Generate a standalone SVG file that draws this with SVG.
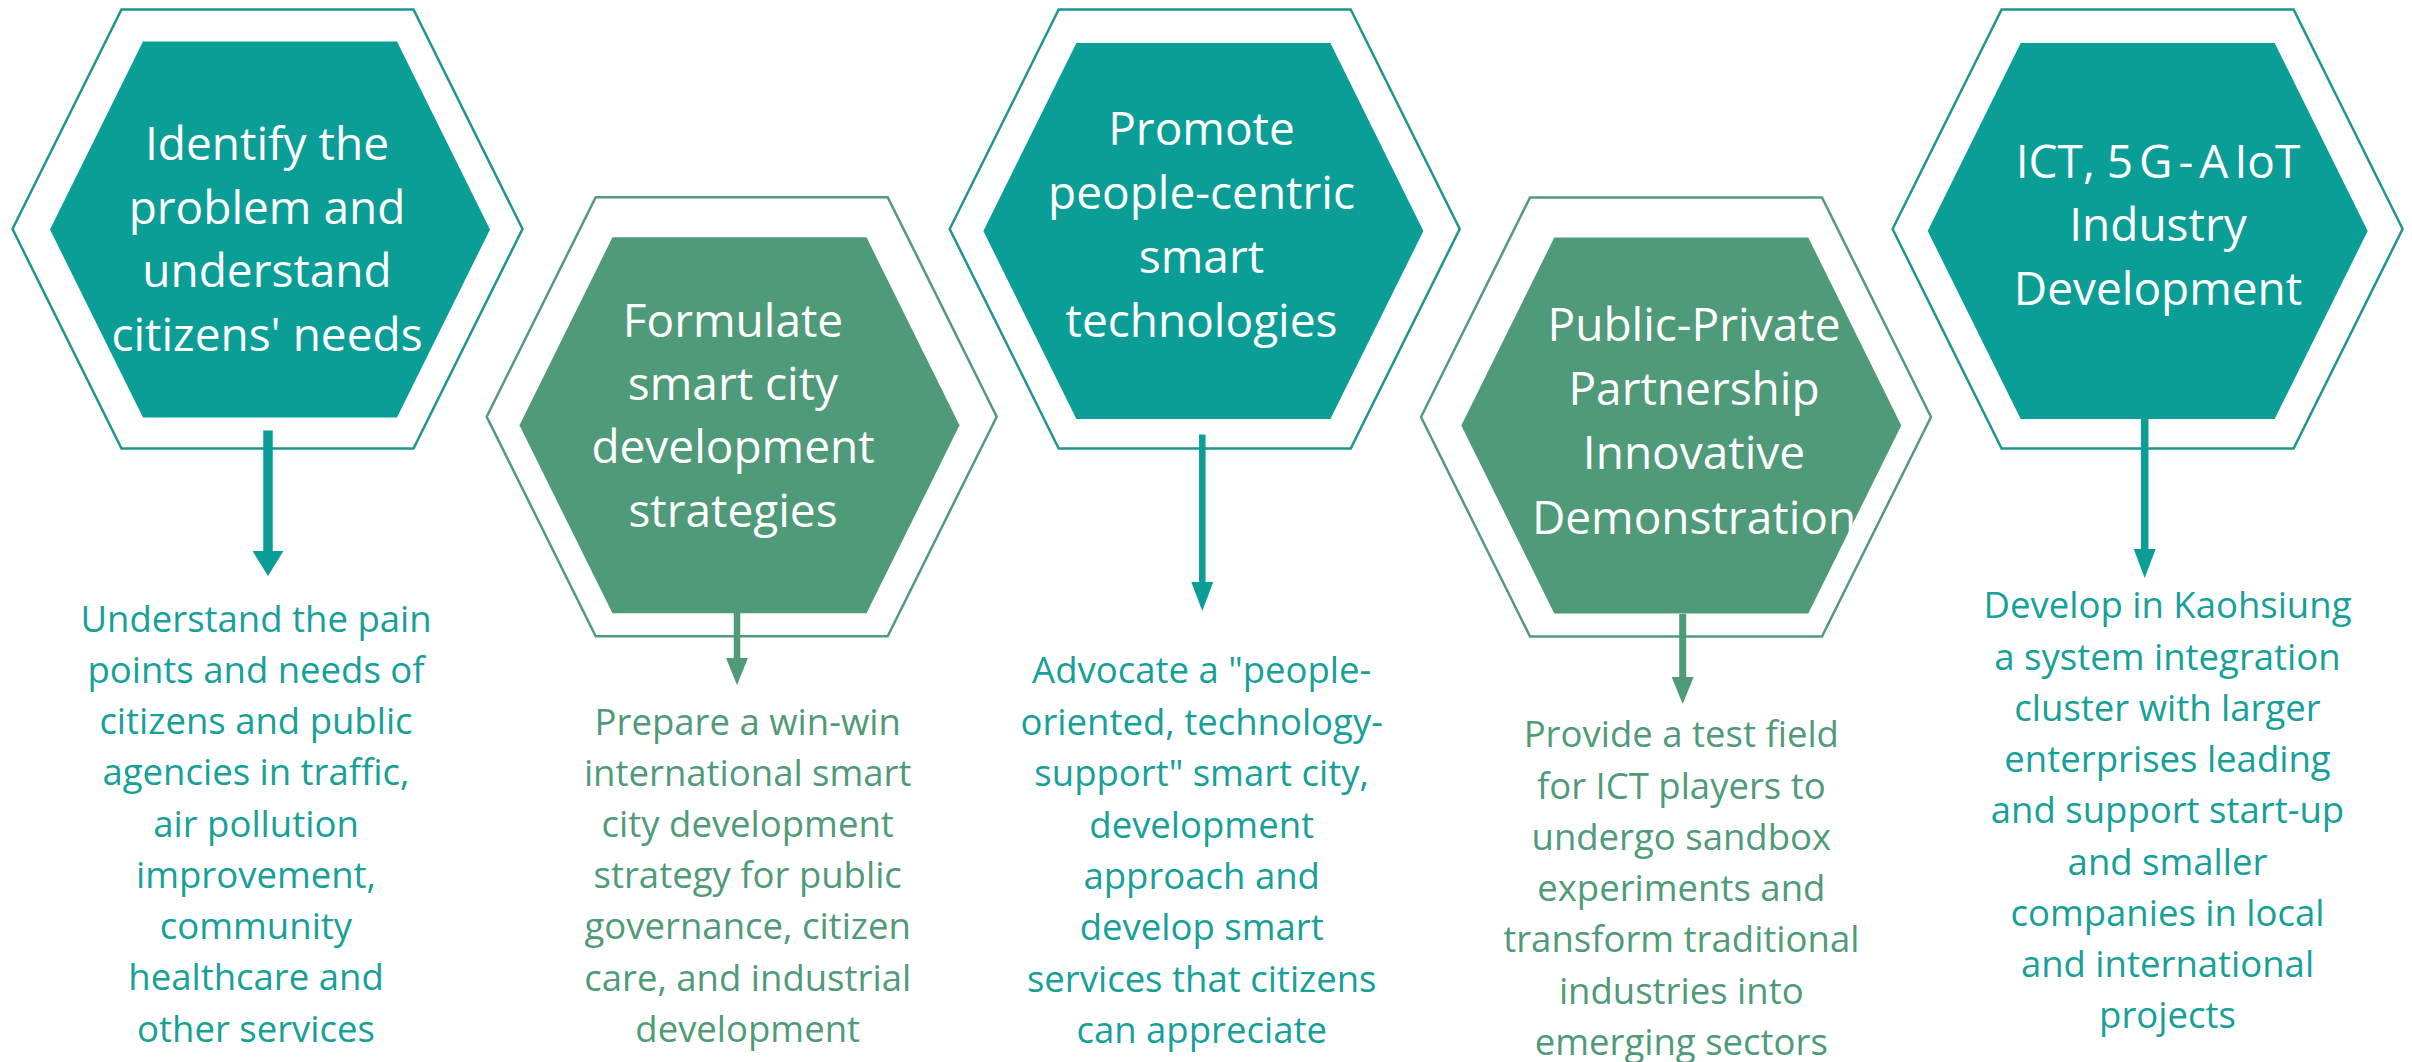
<svg xmlns="http://www.w3.org/2000/svg" xmlns:xlink="http://www.w3.org/1999/xlink" width="2412" height="1062" viewBox="0 0 2412 1062">
<style>
.bg{fill:#ffffff}
.outer-t{fill:#ffffff;stroke:#1E958F;stroke-width:2.5}
.outer-g{fill:#ffffff;stroke:#529A7C;stroke-width:2.5}
.inner-t{fill:#0B9E97}
.inner-g{fill:#4F9A79}
.title{font-family:"Open Sans","Liberation Sans",sans-serif;font-size:46px;fill:#ffffff;text-anchor:middle}
.desc{font-family:"Open Sans","Liberation Sans",sans-serif;font-size:36.5px;text-anchor:middle}
.desc-t{fill:#16A098}
.desc-g{fill:#4F9A79}
.arr-t{stroke:#0B9E97;fill:none}
.arr-g{stroke:#4F9A79;fill:none}
</style>
<defs>
<path id="hex-outer" d="M-255,0 L-146,-219.5 L146,-219.5 L255,0 L146,219.5 L-146,219.5 Z"/>
<path id="hex-inner" d="M-220,0 L-127,-188 L127,-188 L220,0 L127,188 L-127,188 Z"/>
<marker id="head-t-big" markerUnits="userSpaceOnUse" viewBox="0 0 25 31" markerWidth="25" markerHeight="31" refX="0" refY="15.5" orient="auto"><path d="M0,0 L25,15.5 L0,31 Z" fill="#0B9E97"/></marker>
<marker id="head-t" markerUnits="userSpaceOnUse" viewBox="0 0 29 22" markerWidth="29" markerHeight="22" refX="0" refY="11" orient="auto"><path d="M0,0 L29,11 L0,22 Z" fill="#0B9E97"/></marker>
<marker id="head-g" markerUnits="userSpaceOnUse" viewBox="0 0 27 22" markerWidth="27" markerHeight="22" refX="0" refY="11" orient="auto"><path d="M0,0 L27,11 L0,22 Z" fill="#4F9A79"/></marker>
</defs>
<rect class="bg" x="0" y="0" width="2412" height="1062"/>

<g id="node-1">
<use href="#hex-outer" x="267.5" y="229" class="outer-t"/>
<use href="#hex-inner" x="270" y="229.5" class="inner-t"/>
<text class="title"><tspan x="267" y="160">Identify the</tspan><tspan x="267" y="224">problem and</tspan><tspan x="267" y="287">understand</tspan><tspan x="267" y="351">citizens' needs</tspan></text>
</g>

<g id="node-2">
<use href="#hex-outer" x="741.7" y="416.7" class="outer-g"/>
<use href="#hex-inner" x="739.5" y="425.3" class="inner-g"/>
<text class="title"><tspan x="733" y="336.7">Formulate</tspan><tspan x="733" y="400">smart city</tspan><tspan x="733" y="463.3">development</tspan><tspan x="733" y="526.7">strategies</tspan></text>
</g>

<g id="node-3">
<use href="#hex-outer" x="1204.7" y="229" class="outer-t"/>
<use href="#hex-inner" x="1203.4" y="231" class="inner-t"/>
<text class="title"><tspan x="1201.5" y="144.7">Promote</tspan><tspan x="1201.5" y="208.6">people-centric</tspan><tspan x="1201.5" y="272.5">smart</tspan><tspan x="1201.5" y="336.8">technologies</tspan></text>
</g>

<g id="node-4">
<use href="#hex-outer" x="1676" y="417" class="outer-g"/>
<use href="#hex-inner" x="1681.3" y="425.5" class="inner-g"/>
<text class="title"><tspan x="1694" y="340.7">Public-Private</tspan><tspan x="1694" y="405">Partnership</tspan><tspan x="1694" y="469.3">Innovative</tspan><tspan x="1694" y="533.6">Demonstration</tspan></text>
</g>

<g id="node-5">
<use href="#hex-outer" x="2147.6" y="229" class="outer-t"/>
<use href="#hex-inner" x="2147.7" y="231" class="inner-t"/>
<text class="title"><tspan x="2158" y="178">ICT, <tspan letter-spacing="6">5G-A</tspan>IoT</tspan><tspan x="2158" y="241">Industry</tspan><tspan x="2158" y="305">Development</tspan></text>
</g>

<g id="desc-1">
<text class="desc desc-t"><tspan x="256" y="631.5">Understand the pain</tspan><tspan x="256" y="682.8">points and needs of</tspan><tspan x="256" y="734">citizens and public</tspan><tspan x="256" y="785.3">agencies in traffic,</tspan><tspan x="256" y="836.6">air pollution</tspan><tspan x="256" y="887.9">improvement,</tspan><tspan x="256" y="939.1">community</tspan><tspan x="256" y="990.4">healthcare and</tspan><tspan x="256" y="1041.7">other services</tspan></text>
</g>

<g id="desc-2">
<text class="desc desc-g"><tspan x="747.7" y="735">Prepare a win-win</tspan><tspan x="747.7" y="786.1">international smart</tspan><tspan x="747.7" y="837.2">city development</tspan><tspan x="747.7" y="888.3">strategy for public</tspan><tspan x="747.7" y="939.4">governance, citizen</tspan><tspan x="747.7" y="990.5">care, and industrial</tspan><tspan x="747.7" y="1041.6">development</tspan></text>
</g>

<g id="desc-3">
<text class="desc desc-t"><tspan x="1201.7" y="683.3">Advocate a "people-</tspan><tspan x="1201.7" y="734.7">oriented, technology-</tspan><tspan x="1201.7" y="786.1">support" smart city,</tspan><tspan x="1201.7" y="837.6">development</tspan><tspan x="1201.7" y="889">approach and</tspan><tspan x="1201.7" y="940.4">develop smart</tspan><tspan x="1201.7" y="991.9">services that citizens</tspan><tspan x="1201.7" y="1043.3">can appreciate</tspan></text>
</g>

<g id="desc-4">
<text class="desc desc-g"><tspan x="1681.3" y="747.3">Provide a test field</tspan><tspan x="1681.3" y="798.6">for ICT players to</tspan><tspan x="1681.3" y="849.9">undergo sandbox</tspan><tspan x="1681.3" y="901.2">experiments and</tspan><tspan x="1681.3" y="952.4">transform traditional</tspan><tspan x="1681.3" y="1003.7">industries into</tspan><tspan x="1681.3" y="1055">emerging sectors</tspan></text>
</g>

<g id="desc-5">
<text class="desc desc-t"><tspan x="2167.5" y="618.3">Develop in Kaohsiung</tspan><tspan x="2167.5" y="669.6">a system integration</tspan><tspan x="2167.5" y="720.8">cluster with larger</tspan><tspan x="2167.5" y="772.1">enterprises leading</tspan><tspan x="2167.5" y="823.3">and support start-up</tspan><tspan x="2167.5" y="874.6">and smaller</tspan><tspan x="2167.5" y="925.8">companies in local</tspan><tspan x="2167.5" y="977.1">and international</tspan><tspan x="2167.5" y="1028.3">projects</tspan></text>
</g>

<g id="connectors">
<line class="arr-t" x1="268" y1="430.5" x2="268" y2="551" stroke-width="9.5" marker-end="url(#head-t-big)"/>
<line class="arr-g" x1="737" y1="613" x2="737" y2="658" stroke-width="6.5" marker-end="url(#head-g)"/>
<line class="arr-t" x1="1202.3" y1="434.4" x2="1202.3" y2="582" stroke-width="6.5" marker-end="url(#head-t)"/>
<line class="arr-g" x1="1682.7" y1="613.9" x2="1682.7" y2="677" stroke-width="7" marker-end="url(#head-g)"/>
<line class="arr-t" x1="2144.7" y1="419" x2="2144.7" y2="549" stroke-width="7.5" marker-end="url(#head-t)"/>
</g>
</svg>
